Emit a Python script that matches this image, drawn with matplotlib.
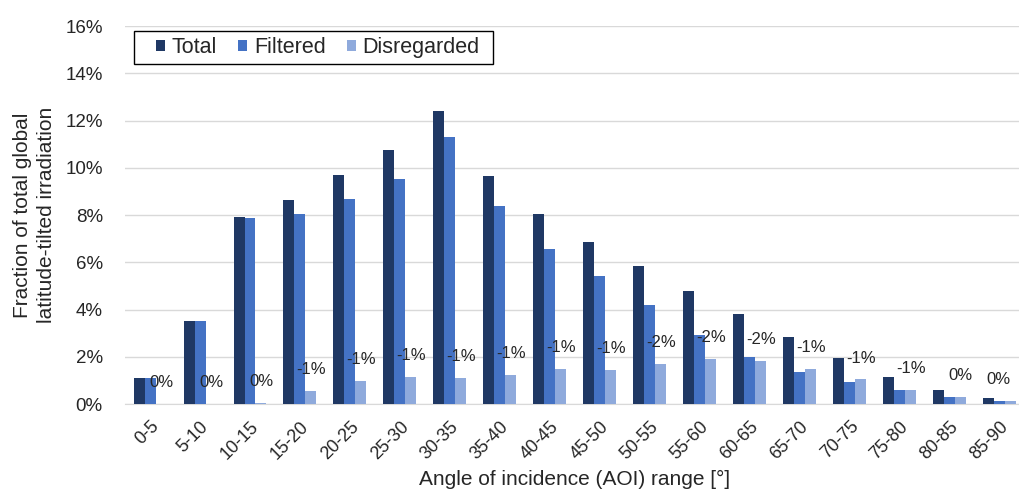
import matplotlib
matplotlib.use("Agg")
import matplotlib.pyplot as plt
import matplotlib.patches as mpatches
import numpy as np
from matplotlib.ticker import FuncFormatter

plt.rcParams['font.family'] = ['Liberation Sans', 'DejaVu Sans']

# data (fractions in %)
categories = ['0-5', '5-10', '10-15', '15-20', '20-25', '25-30', '30-35', '35-40', '40-45',
              '45-50', '50-55', '55-60', '60-65', '65-70', '70-75', '75-80', '80-85', '85-90']
total = [1.1, 3.5, 7.9, 8.63, 9.71, 10.74, 12.39, 9.65, 8.05,
         6.85, 5.85, 4.8, 3.8, 2.85, 1.96, 1.15, 0.59, 0.24]
filtered = [1.1, 3.5, 7.88, 8.05, 8.68, 9.53, 11.3, 8.4, 6.58,
            5.42, 4.18, 2.92, 2.0, 1.37, 0.92, 0.59, 0.31, 0.14]
disregarded = [0.0, 0.0, 0.05, 0.55, 0.99, 1.15, 1.09, 1.23, 1.5,
               1.43, 1.68, 1.89, 1.83, 1.5, 1.04, 0.59, 0.31, 0.14]
diff_labels = ['0%', '0%', '0%', '-1%', '-1%', '-1%', '-1%', '-1%', '-1%',
               '-1%', '-2%', '-2%', '-2%', '-1%', '-1%', '-1%', '0%', '0%']

c_total = '#1F3864'
c_filt = '#4472C4'
c_disr = '#8FAADC'
c_text = '#262626'

fig = plt.figure(figsize=(10.19, 4.90), dpi=100)
ax = fig.add_axes([0.1227, 0.1755, 0.883, 0.7714])

x = np.arange(len(categories))
w = 0.22
ax.bar(x - w, total, w, color=c_total, label='Total', zorder=3)
ax.bar(x, filtered, w, color=c_filt, label='Filtered', zorder=3)
bars_d = ax.bar(x + w, disregarded, w, color=c_disr, label='Disregarded', zorder=3)

# difference labels above the disregarded bars
lbls = ax.bar_label(bars_d, labels=diff_labels, padding=10, fontsize=12, color=c_text, zorder=4)
lbls[-1].set_horizontalalignment('right')  # keep the last one inside the picture

ax.set_ylim(0, 16)
ax.set_xlim(-0.5, len(categories) - 0.5)
ax.set_yticks(np.arange(0, 17, 2))
ax.yaxis.set_major_formatter(FuncFormatter(lambda v, p: f'{v:.0f}%'))
ax.grid(axis='y', color='#D9D9D9', linewidth=1, zorder=0)
for s in ['top', 'right', 'left']:
    ax.spines[s].set_visible(False)
ax.spines['bottom'].set_color('#D9D9D9')
ax.tick_params(axis='both', length=0, colors=c_text)
ax.tick_params(axis='y', labelsize=13.5, pad=16)

ax.set_xticks(x)
ax.set_xticklabels(categories, rotation=45, ha='right', rotation_mode='anchor', fontsize=13)
ax.tick_params(axis='x', pad=10)

ax.set_xlabel('Angle of incidence (AOI) range [°]', fontsize=15, color=c_text, labelpad=5)
ax.set_ylabel('Fraction of total global\nlatitude-tilted irradiation', fontsize=15,
              color=c_text, labelpad=7, linespacing=1.3)

# legend without its own frame, box drawn separately (wider left padding like the original)
leg = fig.legend(*ax.get_legend_handles_labels(), loc='center left',
                 bbox_to_anchor=(156 / 1019, 1 - 47.5 / 490), borderaxespad=0, borderpad=0,
                 ncol=3, fontsize=15.5, frameon=False, handlelength=0.42,
                 handleheight=0.42, handletextpad=0.3, columnspacing=1.0)
for t in leg.get_texts():
    t.set_color(c_text)
fig.patches.append(mpatches.Rectangle((134 / 1019, 1 - 64 / 490), 359 / 1019, 33 / 490,
                                      transform=fig.transFigure, facecolor='white',
                                      edgecolor='black', linewidth=1.0, zorder=5))
leg.set_zorder(6)

fig.savefig('out.png', dpi=100)
